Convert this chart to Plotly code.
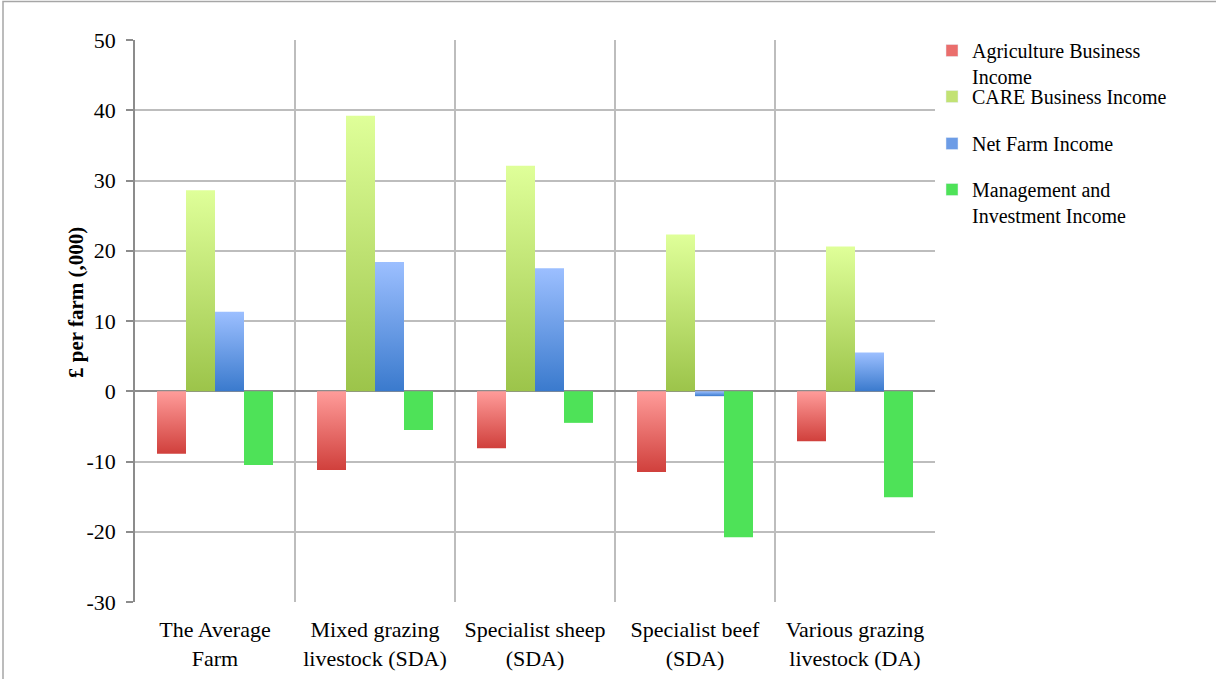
import plotly.graph_objects as go

# Farm types (x categories) and the four income measures, in £ per farm (,000)
categories = [
    "The Average<br>Farm",
    "Mixed grazing<br>livestock (SDA)",
    "Specialist sheep<br>(SDA)",
    "Specialist beef<br>(SDA)",
    "Various grazing<br>livestock (DA)",
]
agriculture_business_income = [-8.9, -11.2, -8.1, -11.5, -7.1]
care_business_income = [28.6, 39.2, 32.1, 22.3, 20.6]
net_farm_income = [11.3, 18.4, 17.5, -0.7, 5.5]
management_investment_income = [-10.5, -5.5, -4.5, -20.8, -15.1]

series_labels = [
    "Agriculture Business<br>Income",
    "CARE Business Income",
    "Net Farm Income",
    "Management and<br>Investment Income",
]
y_tick_values = [-30, -20, -10, 0, 10, 20, 30, 40, 50]
y_tick_text = ["-30", "-20", "-10", "0", "10", "20", "30", "40", "50"]

series_values = [
    agriculture_business_income,
    care_business_income,
    net_farm_income,
    management_investment_income,
]
# (bottom colour, top colour) of each series' vertical gradient
series_gradients = [
    ("#d0403c", "#ff9c9a"),
    ("#9cc44a", "#dfff99"),
    ("#3a7acd", "#9cbfff"),
    ("#4ee258", "#4ee258"),
]
legend_colors = ["#ea6e6c", "#c2e274", "#6c9ce6", "#4ee258"]

FONT = "Liberation Serif"
GRID = "#bdbdbd"
AXIS = "#8c8c8c"

group_width = 0.725
bar_w = group_width / len(series_values)

fig = go.Figure()

for s, (vals, (c_bot, c_top)) in enumerate(zip(series_values, series_gradients)):
    for i, v in enumerate(vals):
        centre = i + 0.5 + (s - (len(series_values) - 1) / 2) * bar_w
        x0, x1 = centre - bar_w / 2, centre + bar_w / 2
        fig.add_trace(go.Scatter(
            x=[x0, x1, x1, x0, x0],
            y=[0, 0, v, v, 0],
            mode="lines",
            line=dict(width=0),
            fill="toself",
            fillgradient=dict(type="vertical", colorscale=[[0, c_bot], [1, c_top]]),
            showlegend=False,
            hoverinfo="skip",
        ))

# One legend box per series so each entry sits at its own height
legend_ids = ["legend", "legend2", "legend3", "legend4"]
legend_tops_px = [31, 77, 124, 170]
for name, col, lid in zip(series_labels, legend_colors, legend_ids):
    fig.add_trace(go.Bar(x=[None], y=[None], name=name, marker_color=col,
                         legend=lid, showlegend=True))

legend_style = dict(
    xanchor="left", yanchor="top",
    font=dict(family=FONT, size=20, color="black"),
    valign="top", itemwidth=30, bgcolor="rgba(0,0,0,0)",
)
legend_layouts = {
    lid: dict(x=(932 - 135) / 800, y=(602 - top) / 562, **legend_style)
    for lid, top in zip(legend_ids, legend_tops_px)
}

fig.add_annotation(
    text="<b>£ per farm (,000)</b>",
    textangle=-90,
    xref="paper", yref="paper",
    x=(62 - 135) / 800, y=(602 - 303) / 562,
    showarrow=False,
    font=dict(family=FONT, size=21, color="black"),
)

# Outer chart frame
fig.add_shape(
    type="rect", xref="paper", yref="paper",
    x0=(3 - 135) / 800, x1=(1500 - 135) / 800,
    y0=(602 - 900) / 562, y1=(602 - 1.5) / 562,
    line=dict(color="#a6a6a6", width=1.5),
    layer="below",
)

fig.update_layout(
    width=1216, height=679,
    margin=dict(l=135, r=281, t=40, b=77, autoexpand=False),
    paper_bgcolor="white", plot_bgcolor="white",
    font=dict(family=FONT, color="black"),
    showlegend=True,
    **legend_layouts,
    xaxis=dict(
        range=[0, 5],
        tickvals=[0.5, 1.5, 2.5, 3.5, 4.5],
        ticktext=categories,
        ticks="",
        ticklabelstandoff=12,
        showgrid=False,
        zeroline=False,
        showline=False,
        automargin=False,
        tickfont=dict(family=FONT, size=22, color="black"),
        minor=dict(tickvals=[0, 1, 2, 3, 4, 5], showgrid=True,
                   gridcolor=GRID, gridwidth=1.5, ticks=""),
    ),
    yaxis=dict(
        range=[-30, 50],
        tickvals=y_tick_values,
        ticktext=y_tick_text,
        ticks="outside", ticklen=7, tickcolor=AXIS, tickwidth=1.5,
        ticklabelstandoff=6,
        showline=True, linecolor=AXIS, linewidth=1.5,
        showgrid=True, gridcolor=GRID, gridwidth=1.5,
        zeroline=True, zerolinecolor=AXIS, zerolinewidth=1.5,
        automargin=False,
        tickfont=dict(family=FONT, size=22, color="black"),
    ),
)

fig.write_html("out.html")
